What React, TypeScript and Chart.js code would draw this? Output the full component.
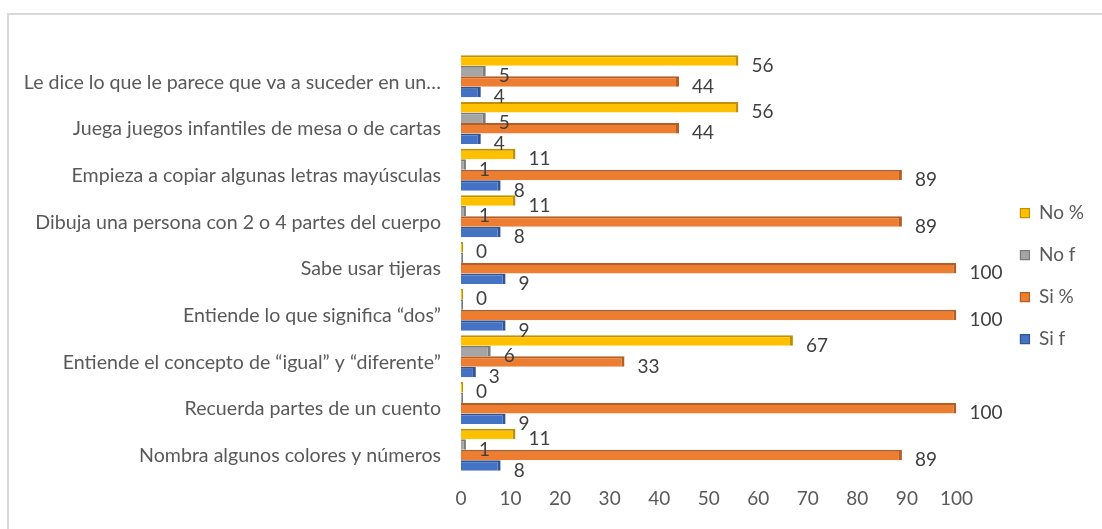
import React, { useEffect, useRef } from "react";
import { Chart, registerables } from "chart.js";

Chart.register(...registerables);

const categories = [
  "Le dice lo que le parece que va a suceder en un…",
  "Juega juegos infantiles de mesa o de cartas",
  "Empieza a copiar algunas letras mayúsculas",
  "Dibuja una persona con 2 o 4 partes del cuerpo",
  "Sabe usar tijeras",
  "Entiende lo que significa “dos”",
  "Entiende el concepto de “igual” y “diferente”",
  "Recuerda partes de un cuento",
  "Nombra algunos colores y números",
];

const noPct = [56, 56, 11, 11, 0, 0, 67, 0, 11];
const noF = [5, 5, 1, 1, 0, 0, 6, 0, 1];
const siPct = [44, 44, 89, 89, 100, 100, 33, 100, 89];
const siF = [4, 4, 8, 8, 9, 9, 3, 9, 8];

const xTicks = [0, 10, 20, 30, 40, 50, 60, 70, 80, 90, 100];

const FONT = "Lato, 'DejaVu Sans', sans-serif";

const valueLabels = {
  id: "valueLabels",
  afterDatasetsDraw(chart: any) {
    const ctx = chart.ctx;
    ctx.save();
    ctx.font = `19px ${FONT}`;
    ctx.fillStyle = "#404040";
    ctx.textAlign = "left";
    ctx.textBaseline = "middle";
    chart.data.datasets.forEach((ds: any, di: number) => {
      const meta = chart.getDatasetMeta(di);
      meta.data.forEach((el: any, i: number) => {
        const v = ds.data[i];
        if (v === 0 && di > 0 && chart.data.datasets[di - 1].data[i] === 0) return;
        ctx.fillText(String(v), el.x + 13, el.y + 5);
      });
    });
    ctx.restore();
  },
};

export default function App() {
  const ref = useRef<HTMLCanvasElement | null>(null);
  useEffect(() => {
    if (!ref.current) return;
    const mk = (label: string, data: number[], color: string, edge: string, minLen = 0) => ({
      label,
      data,
      backgroundColor: color,
      borderColor: edge,
      borderWidth: { top: 2, right: 3, bottom: 0, left: 0 },
      borderSkipped: "start",
      minBarLength: minLen,
      categoryPercentage: 0.9,
      barPercentage: 1,
    });
    const chart = new Chart(ref.current, {
      type: "bar",
      data: {
        labels: categories,
        datasets: [
          mk("No %", noPct, "#FFC000", "#C09000", 2),
          mk("No f", noF, "#A5A5A5", "#7C7C7C", 2),
          mk("Si %", siPct, "#ED7D31", "#B25E25"),
          mk("Si f", siF, "#4472C4", "#2F5597"),
        ] as any,
      },
      options: {
        indexAxis: "y",
        responsive: false,
        animation: false,
        layout: { padding: { top: 33, bottom: 10, left: 0, right: 8 } },
        plugins: {
          legend: {
            position: "right",
            labels: {
              boxWidth: 9,
              boxHeight: 9,
              padding: 23,
              color: "#595959",
              font: { family: FONT, size: 19 },
            },
          },
          tooltip: { enabled: false },
        },
        scales: {
          x: {
            min: 0,
            max: 100,
            afterBuildTicks: (s: any) => {
              s.ticks = xTicks.map((v) => ({ value: v }));
            },
            grid: { display: false },
            border: { display: false },
            ticks: {
              color: "#595959",
              padding: 6,
              font: { family: FONT, size: 19 },
            },
            afterFit: (s: any) => {
              s.height = 46;
            },
          },
          x2: {
            type: "linear",
            position: "top",
            display: true,
            grid: { display: false },
            border: { display: false },
            ticks: { display: false },
            afterFit: (s: any) => {
              s.height = 20;
            },
          },
          y: {
            grid: { display: false },
            border: { display: false },
            ticks: {
              color: "#595959",
              padding: 12,
              labelOffset: 6,
              font: { family: FONT, size: 19.6 },
            },
            afterFit: (s: any) => {
              s.width = 461;
            },
          },
          y2: {
            position: "right",
            display: true,
            grid: { display: false },
            border: { display: false },
            ticks: { display: false },
            afterFit: (s: any) => {
              s.width = 41;
            },
          },
        },
      },
      plugins: [valueLabels],
    } as any);
    return () => chart.destroy();
  }, []);
  return (
    <div style={{ position: "fixed", left: 0, top: 0, width: 1102, height: 529, overflow: "hidden", background: "#fff" }}>
      <div
        style={{
          position: "absolute",
          left: 7,
          top: 13,
          width: 2000,
          height: 2000,
          borderTop: "2px solid #d9d9d9",
          borderLeft: "2px solid #d9d9d9",
        }}
      />
      <canvas ref={ref} width={1102} height={529} style={{ position: "absolute", left: 0, top: 0, width: 1102, height: 529 }} />
    </div>
  );
}
